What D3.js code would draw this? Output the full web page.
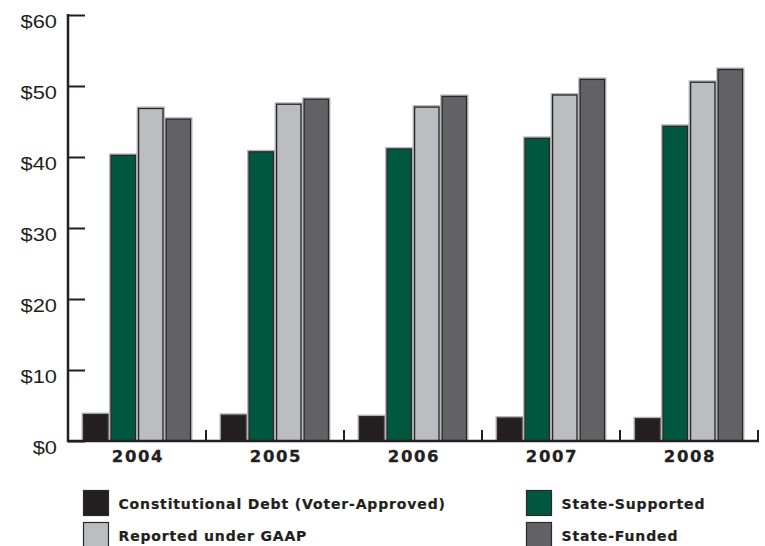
<!DOCTYPE html>
<html>
<head>
<meta charset="utf-8">
<script src="https://cdn.jsdelivr.net/npm/d3@7"></script>
<style>
  html, body { margin: 0; padding: 0; background: #ffffff; }
  svg { display: block; }
</style>
</head>
<body>
<div id="chart"></div>
<script>
// ---- data ----
const years = ["2004", "2005", "2006", "2007", "2008"];
const seriesNames = ["Constitutional Debt (Voter-Approved)", "State-Supported", "Reported under GAAP", "State-Funded"];
const constitutionalDebt = [3.8, 3.7, 3.5, 3.3, 3.2];
const stateSupported = [40.3, 40.8, 41.2, 42.7, 44.4];
const reportedGAAP = [46.9, 47.5, 47.1, 48.8, 50.6];
const stateFunded = [45.4, 48.2, 48.6, 51.0, 52.4];
const yTicks = [0, 10, 20, 30, 40, 50, 60];
const yTickLabels = ["$0", "$10", "$20", "$30", "$40", "$50", "$60"];
const colors = ["#231f20", "#005740", "#bcbdc0", "#626264"];

const seriesValues = [constitutionalDebt, stateSupported, reportedGAAP, stateFunded];

const W = 765, H = 546;
const svg = d3.select("#chart").append("svg").attr("width", W).attr("height", H);

const x0 = d3.scaleBand().domain(years).range([68, 758]).padding(0);
const x1 = d3.scaleBand().domain(d3.range(4)).range([15, 123]).paddingInner(0.08).paddingOuter(0);
const y = d3.scaleLinear().domain([0, 60]).range([441, 15]);

const axisColor = "#231f20";

// bars
const groups = svg.append("g").selectAll("g").data(years).join("g")
  .attr("transform", d => `translate(${x0(d)},0)`);

groups.selectAll("rect.halo").data((d, i) => seriesValues.map((s, k) => ({k, v: s[i]})))
  .join("rect").attr("class", "halo")
  .attr("x", d => x1(d.k) - 0.5)
  .attr("y", d => y(d.v) - 0.5)
  .attr("width", x1.bandwidth() + 1)
  .attr("height", d => y(0) - y(d.v) + 0.5)
  .attr("fill", "none")
  .attr("stroke", "#b5b5b5")
  .attr("stroke-width", 2);

groups.selectAll("rect.bar").data((d, i) => seriesValues.map((s, k) => ({k, v: s[i]})))
  .join("rect").attr("class", "bar")
  .attr("x", d => x1(d.k) + 0.5)
  .attr("y", d => y(d.v) + 0.5)
  .attr("width", x1.bandwidth() - 1)
  .attr("height", d => y(0) - y(d.v) - 0.5)
  .attr("fill", d => colors[d.k])
  .attr("stroke", "#2a2829")
  .attr("stroke-width", 1.3);

// y axis
const yAxis = d3.axisRight(y).tickValues(yTicks).tickSize(17).tickFormat("");
const gy = svg.append("g").attr("transform", "translate(68,0)").call(yAxis);
gy.select(".domain").remove();
gy.selectAll(".tick line").attr("stroke", axisColor).attr("stroke-width", 2);
svg.append("line").attr("x1", 68).attr("x2", 68).attr("y1", y(60) - 1).attr("y2", y(0) + 1)
  .attr("stroke", axisColor).attr("stroke-width", 2.5);

svg.append("g").selectAll("text").data(yTicks).join("text")
  .attr("transform", d => `translate(57,${y(d) + 13}) scale(1.18,1)`)
  .attr("text-anchor", "end")
  .attr("font-family", "'Liberation Sans', Arial, sans-serif")
  .attr("font-size", 18.5)
  .attr("fill", "#231f20")
  .text((d, i) => yTickLabels[i]);

// x axis baseline + upward ticks at group boundaries
svg.append("line").attr("x1", 67).attr("x2", 759).attr("y1", y(0)).attr("y2", y(0))
  .attr("stroke", axisColor).attr("stroke-width", 2.5);
const boundaries = years.slice(1).map(d => x0(d)).concat([x0.range()[1]]);
svg.append("g").selectAll("line").data(boundaries).join("line")
  .attr("x1", d => d).attr("x2", d => d)
  .attr("y1", y(0)).attr("y2", y(0) - 11)
  .attr("stroke", axisColor).attr("stroke-width", 2);

// year labels
svg.append("g").selectAll("text").data(years).join("text")
  .attr("x", d => x0(d) + x0.bandwidth() / 2 + 1)
  .attr("y", 462)
  .attr("text-anchor", "middle")
  .attr("font-family", "'DejaVu Sans', sans-serif")
  .attr("font-weight", "bold")
  .attr("font-size", 16.5)
  .attr("letter-spacing", 1.6)
  .attr("stroke", "#231f20")
  .attr("stroke-width", 0.3)
  .attr("fill", "#231f20")
  .text(d => d);

// legend
const legendPos = [
  {x: 83, y: 490},
  {x: 526, y: 490},
  {x: 83, y: 522},
  {x: 526, y: 522}
];
const lg = svg.append("g").selectAll("g").data(seriesNames).join("g")
  .attr("transform", (d, i) => `translate(${legendPos[i].x},${legendPos[i].y})`);
lg.append("rect")
  .attr("x", 0.5).attr("y", 0.5).attr("width", 25).attr("height", 25)
  .attr("fill", (d, i) => colors[i])
  .attr("stroke", "#2a2829").attr("stroke-width", 1.2);
lg.append("text")
  .attr("x", 35.5).attr("y", 18.5)
  .attr("font-family", "'DejaVu Sans', sans-serif")
  .attr("font-weight", "bold")
  .attr("font-size", 14)
  .attr("letter-spacing", 0.85)
  .attr("stroke", "#231f20")
  .attr("stroke-width", 0.2)
  .attr("fill", "#231f20")
  .text(d => d);
</script>
</body>
</html>
